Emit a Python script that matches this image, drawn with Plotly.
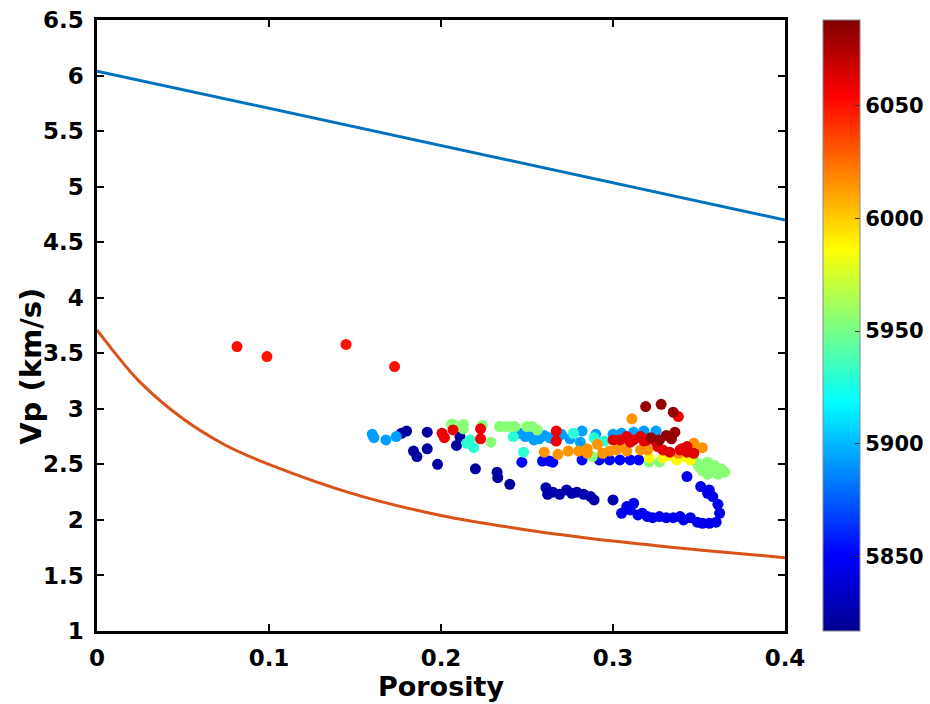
import plotly.graph_objects as go

# ---------------- data ----------------
# bounds
upper_phi = [0.0, 0.4]
upper_vp = [6.04, 4.70]

lower_phi = [0.0, 0.005, 0.01, 0.025, 0.05, 0.075, 0.1, 0.15, 0.2, 0.25, 0.3, 0.35, 0.4]
lower_vp = [3.71, 3.61, 3.51, 3.24, 2.91, 2.67, 2.50, 2.23, 2.04, 1.91, 1.81, 1.73, 1.66]

# well log samples: porosity, Vp (km/s), colour value
porosity = [
    # navy
    0.177, 0.180, 0.192, 0.184, 0.186, 0.192, 0.198, 0.209, 0.211, 0.220, 0.2326, 0.233, 0.240,
    0.261, 0.262, 0.265, 0.269, 0.273, 0.276, 0.279, 0.283, 0.287, 0.289, 0.300,
    # blue
    0.312, 0.310, 0.308, 0.305, 0.317, 0.3145, 0.320, 0.323, 0.327, 0.331, 0.335, 0.339, 0.341,
    0.345, 0.349, 0.352, 0.356, 0.360, 0.362, 0.361, 0.358, 0.356, 0.355, 0.343, 0.351,
    0.247, 0.259, 0.263, 0.265, 0.282, 0.292, 0.298, 0.304, 0.310, 0.315,
    # light blue
    0.160, 0.161, 0.168, 0.174, 0.246, 0.249, 0.251, 0.254, 0.257, 0.260, 0.263, 0.265, 0.270,
    0.282, 0.281, 0.300, 0.318, 0.325, 0.268, 0.275, 0.290, 0.305, 0.312,
    # teal
    0.215, 0.219, 0.217, 0.242, 0.248, 0.277, 0.289, 0.295,
    # light green
    0.207, 0.213, 0.213, 0.224, 0.229, 0.206, 0.211, 0.234, 0.237, 0.240, 0.243, 0.250, 0.253,
    0.256, 0.288, 0.321, 0.327, 0.349, 0.355, 0.359, 0.363, 0.365, 0.358, 0.352, 0.361, 0.355,
    0.350, 0.357, 0.362,
    # yellow
    0.321, 0.329, 0.337, 0.345, 0.333, 0.341,
    # orange
    0.260, 0.274, 0.280, 0.285, 0.268, 0.291, 0.294, 0.311, 0.302, 0.308, 0.316, 0.304, 0.347,
    0.352, 0.285, 0.298, 0.320, 0.338,
    # red
    0.0814, 0.0988, 0.1448, 0.173,
    0.2006, 0.202, 0.207, 0.223, 0.223, 0.267, 0.267, 0.338,
    0.300, 0.304, 0.308, 0.312, 0.316, 0.320, 0.326, 0.329, 0.333, 0.339, 0.343, 0.347, 0.343,
    0.310, 0.318, 0.325, 0.340,
    # dark red
    0.319, 0.328, 0.335, 0.336, 0.322, 0.327, 0.331, 0.334,
]
vp = [
    # navy
    2.78, 2.80, 2.79, 2.62, 2.57, 2.64, 2.50, 2.67, 2.75, 2.46, 2.43, 2.38, 2.32,
    2.29, 2.23, 2.25, 2.23, 2.27, 2.24, 2.25, 2.23, 2.21, 2.18, 2.18,
    # blue
    2.15, 2.09, 2.12, 2.06, 2.06, 2.045, 2.03, 2.02, 2.03, 2.02, 2.02, 2.03, 2.00,
    2.02, 1.98, 1.97, 1.97, 1.98, 2.06, 2.14, 2.21, 2.27, 2.24, 2.39, 2.30,
    2.52, 2.53, 2.53, 2.52, 2.54, 2.54, 2.54, 2.54, 2.54, 2.54,
    # light blue
    2.77, 2.74, 2.72, 2.75, 2.78, 2.75, 2.78, 2.72, 2.73, 2.76, 2.74, 2.73, 2.77,
    2.80, 2.70, 2.77, 2.80, 2.80, 2.75, 2.73, 2.77, 2.78, 2.79,
    # teal
    2.69, 2.65, 2.72, 2.75, 2.61, 2.78, 2.74, 2.71,
    # light green
    2.86, 2.86, 2.82, 2.85, 2.70, 2.86, 2.84, 2.84, 2.84, 2.84, 2.84, 2.84, 2.84,
    2.81, 2.57, 2.52, 2.52, 2.51, 2.52, 2.49, 2.46, 2.43, 2.44, 2.44, 2.41, 2.41,
    2.48, 2.46, 2.44,
    # yellow
    2.56, 2.56, 2.54, 2.54, 2.58, 2.57,
    # orange
    2.61, 2.62, 2.62, 2.64, 2.59, 2.68, 2.60, 2.91, 2.63, 2.62, 2.63, 2.67, 2.69,
    2.65, 2.60, 2.62, 2.63, 2.60,
    # red
    3.56, 3.47, 3.58, 3.38,
    2.78, 2.74, 2.81, 2.82, 2.73, 2.80, 2.71, 2.93,
    2.72, 2.72, 2.75, 2.72, 2.75, 2.72, 2.66, 2.63, 2.61, 2.63, 2.61, 2.60, 2.66,
    2.70, 2.71, 2.70, 2.64,
    # dark red
    3.02, 3.04, 2.97, 2.79, 2.74, 2.72, 2.76, 2.73,
]
depth = (
    [5822] * 13 + [5826] * 11
    + [5845] * 25 + [5852] * 10
    + [5893] * 23
    + [5930] * 8
    + [5955] * 29
    + [5988] * 6
    + [6015] * 18
    + [6050] * 4 + [6058] * 8 + [6062] * 17
    + [6082] * 8
)

x_ticks = [0, 0.1, 0.2, 0.3, 0.4]
x_labels = ["0", "0.1", "0.2", "0.3", "0.4"]
y_ticks = [1, 1.5, 2, 2.5, 3, 3.5, 4, 4.5, 5, 5.5, 6, 6.5]
y_labels = ["1", "1.5", "2", "2.5", "3", "3.5", "4", "4.5", "5", "5.5", "6", "6.5"]
cbar_ticks = [5850, 5900, 5950, 6000, 6050]

# ---------------- figure ----------------
jet = [[0.0, "#00008F"], [0.125, "#0000FF"], [0.375, "#00FFFF"],
       [0.625, "#FFFF00"], [0.875, "#FF0000"], [1.0, "#800000"]]

FONT = "DejaVu Sans"

fig = go.Figure()
fig.add_trace(go.Scatter(x=upper_phi, y=upper_vp, mode="lines",
                         line=dict(color="#0072BD", width=3), showlegend=False))
fig.add_trace(go.Scatter(x=lower_phi, y=lower_vp, mode="lines",
                         line=dict(color="#D95319", width=3, shape="spline"),
                         showlegend=False))
fig.add_trace(go.Scatter(
    x=porosity, y=vp, mode="markers", showlegend=False,
    marker=dict(size=11, color=depth, colorscale=jet, cmin=5817, cmax=6088,
                line=dict(width=0),
                colorbar=dict(
                    x=1.055, xanchor="left", y=0.5, yanchor="middle",
                    len=1.0, lenmode="fraction",
                    thickness=37, thicknessmode="pixels",
                    outlinecolor="#888888", outlinewidth=1,
                    tickvals=cbar_ticks, ticks="inside", ticklen=5,
                    tickcolor="#333333", tickwidth=1,
                    tickfont=dict(family=FONT, size=21, color="black", weight="bold"),
                    xpad=0, ypad=0,
                ))))

axis_common = dict(
    showline=True, linecolor="black", linewidth=2.5, mirror="ticks",
    ticks="inside", ticklen=7, tickwidth=2, tickcolor="black",
    showgrid=False, zeroline=False,
    tickfont=dict(family=FONT, size=23, color="black", weight="bold"),
)

fig.update_xaxes(range=[0, 0.4], tickvals=x_ticks, ticktext=x_labels,
                 ticklabelstandoff=5,
                 title=dict(text="Porosity", font=dict(family=FONT, size=27, color="black", weight="bold"),
                            standoff=6),
                 **axis_common)
fig.update_yaxes(range=[1, 6.5], tickvals=y_ticks, ticktext=y_labels,
                 ticklabelstandoff=6,
                 **axis_common)

fig.add_annotation(text="Vp (km/s)", textangle=-90, showarrow=False,
                   xref="paper", x=-0.097, xanchor="center",
                   yref="y", y=3.38, yanchor="middle",
                   font=dict(family=FONT, size=29, color="black", weight="bold"))

fig.update_layout(
    width=930, height=704,
    margin=dict(l=97, r=145, t=20, b=73, autoexpand=False),
    paper_bgcolor="white", plot_bgcolor="white",
)

fig.write_html("out.html")
